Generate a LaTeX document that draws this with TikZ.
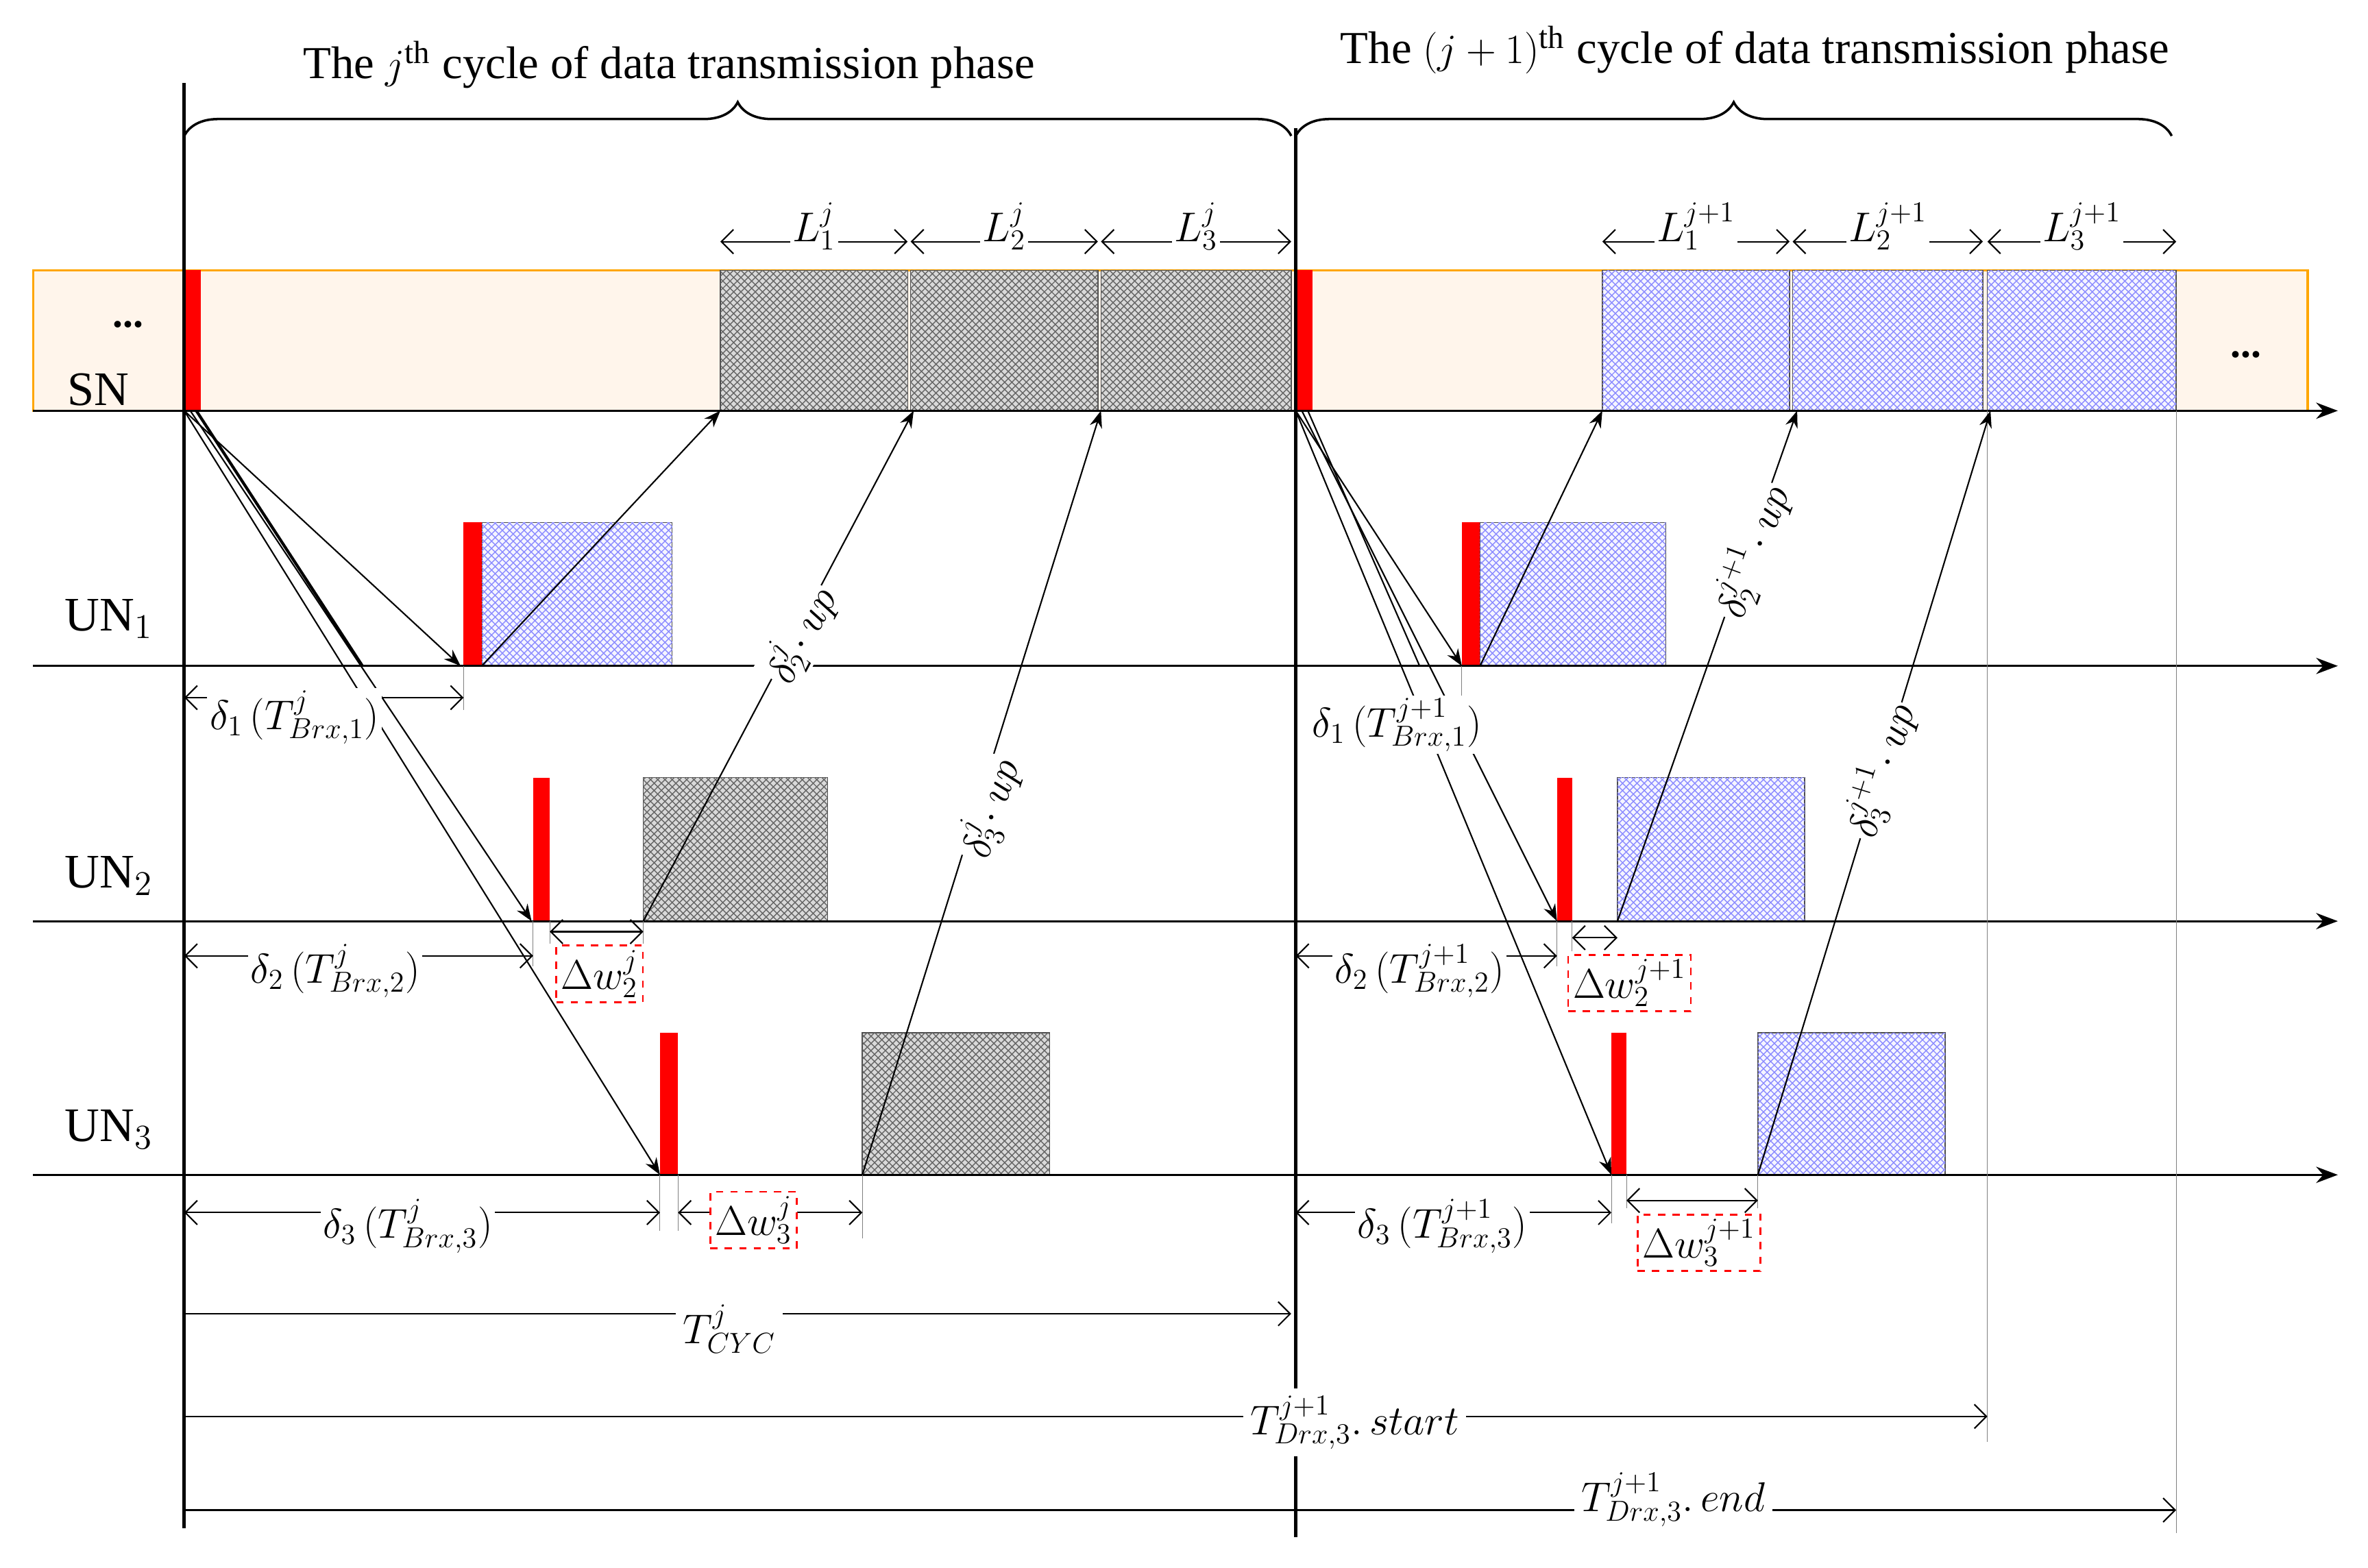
\documentclass[tikz,border=0pt]{standalone}
\usepackage{fontspec}
\setmainfont{Liberation Serif}
\usetikzlibrary{patterns,decorations.pathreplacing,arrows.meta}
\begin{document}
\begin{tikzpicture}[x=0.022035cm,y=-0.022035cm,
 font=\fontsize{17}{19}\selectfont,
 ax/.style={-{Stealth[length=9pt]},line width=0.8pt},
 dim/.style={{Straight Barb[length=5pt]}-{Straight Barb[length=5pt]},line width=0.6pt},
 ra/.style={-{Straight Barb[length=5pt]},line width=0.6pt},
 gb/.style={fill=gray!30,draw=gray!60!black,postaction={pattern=crosshatch,pattern color=black!60}},
 bb/.style={fill=blue!4,draw=gray!60!black,postaction={pattern=crosshatch,pattern color=blue!45}},
 sig/.style={-{Stealth[length=7pt]},line width=0.6pt},
 wbox/.style={draw=red,dashed,line width=0.8pt,inner sep=2pt}]
\useasboundingbox (0,0) rectangle (1568,1038);
% SN bar
\fill[orange!8] (22,179) rectangle (1528,272);
\draw[draw=orange!70!yellow,line width=1pt] (22,179) rectangle (1528,272);
\node at (85,215) {\textbf{...}};
\node at (1487,235) {\textbf{...}};
\node at (65,258) {\fontsize{20}{22}\selectfont SN};
\node at (72,410) {\fontsize{20}{22}\selectfont UN$_1$};
\node at (72,580) {\fontsize{20}{22}\selectfont UN$_2$};
\node at (72,748) {\fontsize{20}{22}\selectfont UN$_3$};
% blocks SN
\foreach \a/\b in {477/601,603/727,729/855} \draw[gb] (\a,179) rectangle (\b,272);
\foreach \a/\b in {1061/1185,1187/1313,1316/1441} \draw[bb] (\a,179) rectangle (\b,272);
\fill[red] (122,179) rectangle (133,272);
\fill[red] (858,179) rectangle (869,272);
% UN blocks
\draw[bb] (319,346) rectangle (445,441); \fill[red] (307,346) rectangle (319,441);
\draw[bb] (980,346) rectangle (1103,441); \fill[red] (968,346) rectangle (980,441);
\draw[gb] (426,515) rectangle (548,610); \fill[red] (353,515) rectangle (364,610);
\draw[bb] (1071,515) rectangle (1195,610); \fill[red] (1031,515) rectangle (1041,610);
\draw[gb] (571,684) rectangle (695,778); \fill[red] (437,684) rectangle (449,778);
\draw[bb] (1164,684) rectangle (1288,778); \fill[red] (1067,684) rectangle (1077,778);
% axes
\draw[ax] (22,272) -- (1548,272);
\draw[ax] (22,441) -- (1548,441);
\draw[ax] (22,610) -- (1548,610);
\draw[ax] (22,778) -- (1548,778);
\draw[line width=1.5pt] (122,55) -- (122,1012);
\draw[line width=1.5pt] (858,85) -- (858,1018);
\draw[line width=0.3pt,gray] (1316,272) -- (1316,955);
\draw[line width=0.3pt,gray] (1441,272) -- (1441,1015);
\foreach \x/\a/\b in {307/441/470,353/610/640,437/778/815,449/778/815,571/778/820,364/610/625,426/610/625,1031/610/640,1041/610/630,1067/778/810,1077/778/800,1164/778/800,968/441/465}
 \draw[line width=0.3pt,gray] (\x,\a) -- (\x,\b);
% braces
\draw[decorate,decoration={brace,amplitude=14pt},line width=1pt] (122,90) -- (855,90);
\draw[decorate,decoration={brace,amplitude=14pt},line width=1pt] (858,90) -- (1438,90);
\node at (443,43) {\fontsize{19}{21}\selectfont The $j^{\mathrm{th}}$ cycle of data transmission phase};
\node at (1162,33) {\fontsize{19}{21}\selectfont The $(j+1)^{\mathrm{th}}$ cycle of data transmission phase};
% L labels
\foreach \a/\b/\i in {477/601/1,603/727/2,729/855/3}
 {\draw[dim] (\a,160) -- (\b,160); \node[fill=white,inner sep=1pt] at ({(\a+\b)/2},150) {$L_{\i}^{j}$};}
\foreach \a/\b/\i in {1061/1185/1,1187/1313/2,1316/1441/3}
 {\draw[dim] (\a,160) -- (\b,160); \node[fill=white,inner sep=1pt] at ({(\a+\b)/2},150) {$L_{\i}^{j+1}$};}
% downlink signals
\draw[sig] (122,272) -- (305,441);
\draw[line width=1.2pt,sig] (126,272) -- (352,610);
\draw[line width=1.2pt] (130,272) -- (240,441);
\draw[line width=1.2pt,sig] (122,272) -- (437,778);
\draw[sig] (858,272) -- (968,441);
\draw[sig] (862,272) -- (1031,610);
\draw[sig] (858,272) -- (1067,778);
\draw[line width=0.6pt] (866,272) -- (940,441);
% uplink
\draw[sig] (319,441) -- (477,272);
\draw[sig] (426,610) -- (605,272);
\draw[sig] (571,778) -- (729,272);
\draw[sig] (980,441) -- (1061,272);
\draw[sig] (1071,610) -- (1190,272);
\draw[sig] (1164,778) -- (1318,272);
\node[rotate=62,fill=white,inner sep=1pt] at (530,420) {$\delta_2^{j}\!\cdot up$};
\node[rotate=72,fill=white,inner sep=1pt] at (655,535) {$\delta_3^{j}\!\cdot up$};
\node[rotate=70,fill=white,inner sep=1pt] at (1160,365) {$\delta_2^{j+1}\!\cdot up$};
\node[rotate=73,fill=white,inner sep=1pt] at (1245,510) {$\delta_3^{j+1}\!\cdot up$};
% delta dims
\draw[dim] (122,462) -- (307,462); \node[fill=white,inner sep=1pt] at (195,475) {$\delta_1\,(T_{Brx,1}^{j})$};
\draw[dim] (122,633) -- (353,633); \node[fill=white,inner sep=1pt] at (222,643) {$\delta_2\,(T_{Brx,2}^{j})$};
\draw[dim] (122,803) -- (437,803); \node[fill=white,inner sep=1pt] at (270,812) {$\delta_3\,(T_{Brx,3}^{j})$};
\node[fill=white,inner sep=1pt] at (925,480) {$\delta_1\,(T_{Brx,1}^{j+1})$};
\draw[dim] (858,633) -- (1031,633); \node[fill=white,inner sep=1pt] at (940,643) {$\delta_2\,(T_{Brx,2}^{j+1})$};
\draw[dim] (858,803) -- (1067,803); \node[fill=white,inner sep=1pt] at (955,812) {$\delta_3\,(T_{Brx,3}^{j+1})$};
% delta w
\draw[dim] (364,617) -- (426,617); \node[wbox] at (397,645) {$\Delta w_2^{j}$};
\draw[dim] (449,803) -- (571,803); \node[wbox,fill=white] at (499,808) {$\Delta w_3^{j}$};
\draw[dim] (1041,621) -- (1071,621); \node[wbox] at (1079,651) {$\Delta w_2^{j+1}$};
\draw[dim] (1077,795) -- (1164,795); \node[wbox] at (1125,823) {$\Delta w_3^{j+1}$};
% time spans
\draw[ra] (122,870) -- (855,870); \node[fill=white,inner sep=3pt] at (483,880) {$T_{CYC}^{j}$};
\draw[ra] (122,938) -- (1316,938); \node[fill=white,inner sep=3pt] at (897,942) {$T_{Drx,3}^{j+1}.\,start$};
\draw[ra] (122,1000) -- (1441,1000); \node[fill=white,inner sep=3pt] at (1108,993) {$T_{Drx,3}^{j+1}.\,end$};
\end{tikzpicture}
\end{document}
